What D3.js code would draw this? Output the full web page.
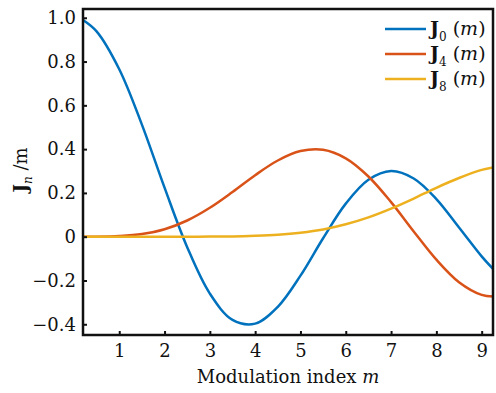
<!DOCTYPE html>
<html>
<head>
<meta charset="utf-8">
<script src="https://cdn.jsdelivr.net/npm/d3@7"></script>
<style>
  body { margin: 0; background: #fff; }
  text { font-family: "DejaVu Serif", serif; fill: #111; }
</style>
</head>
<body>
<script>
//Data
var mIndex = [0.2, 0.5, 1.0, 1.5, 2.0, 2.5, 3.0, 3.5, 4.0, 4.5, 5.0, 5.5, 6.0, 6.5, 7.0, 7.5, 8.0, 8.5, 9.0, 9.25];
var j0 = [0.990, 0.938, 0.765, 0.512, 0.224, -0.048, -0.260, -0.380, -0.397, -0.320, -0.178, -0.007, 0.151, 0.260, 0.300, 0.266, 0.172, 0.042, -0.090, -0.147];
var j4 = [0.000, 0.000, 0.003, 0.012, 0.034, 0.074, 0.132, 0.204, 0.281, 0.348, 0.391, 0.397, 0.358, 0.275, 0.158, 0.024, -0.105, -0.208, -0.266, -0.273];
var j8 = [0.000, 0.000, 0.000, 0.000, 0.000, 0.000, 0.0005, 0.0013, 0.0044, 0.0094, 0.0184, 0.033, 0.0565, 0.088, 0.128, 0.174, 0.2235, 0.268, 0.305, 0.316];
var xTicks = [1, 2, 3, 4, 5, 6, 7, 8, 9];
var yTicks = [-0.4, -0.2, 0, 0.2, 0.4, 0.6, 0.8, 1.0];
var seriesNames = ["0", "4", "8"];
var seriesColors = ["#0072BD", "#D95319", "#EDB120"];

//Define Margin
var W = 496, H = 393;
var margin = {left: 83, right: 3, top: 9, bottom: 58};

var svg = d3.select("body").append("svg")
    .attr("width", W)
    .attr("height", H);

var x = d3.scaleLinear().domain([0.2, 9.25]).range([margin.left, W - margin.right]);
var y = d3.scaleLinear().domain([-0.449, 1.04]).range([H - margin.bottom, margin.top]);

//Clip for curves
svg.append("clipPath").attr("id", "clip")
  .append("rect")
    .attr("x", margin.left).attr("y", margin.top)
    .attr("width", W - margin.left - margin.right)
    .attr("height", H - margin.top - margin.bottom);

var line = d3.line()
    .x(function(d) { return x(d[0]); })
    .y(function(d) { return y(d[1]); })
    .curve(d3.curveCatmullRom);

var series = [j0, j4, j8];
svg.append("g").attr("clip-path", "url(#clip)")
  .selectAll("path")
  .data(series)
  .enter().append("path")
    .attr("d", function(vals) { return line(mIndex.map(function(m, i) { return [m, vals[i]]; })); })
    .attr("fill", "none")
    .attr("stroke", function(d, i) { return seriesColors[i]; })
    .attr("stroke-width", 2.5);

//Axes (ticks pointing inward)
var xAxis = svg.append("g")
    .attr("transform", "translate(0," + (H - margin.bottom) + ")")
    .call(d3.axisBottom(x).tickValues(xTicks).tickSizeInner(-4).tickSizeOuter(0).tickPadding(9));
var yAxis = svg.append("g")
    .attr("transform", "translate(" + margin.left + ",0)")
    .call(d3.axisLeft(y).tickValues(yTicks).tickSizeInner(-4).tickSizeOuter(0).tickPadding(7)
      .tickFormat(function(d) { return d === 0 ? "0" : (d < 0 ? "\u2212" + Math.abs(d).toFixed(1) : d.toFixed(1)); }));

[xAxis, yAxis].forEach(function(a) {
  a.select(".domain").remove();
  a.selectAll(".tick line").attr("stroke", "#111").attr("stroke-width", 2);
  a.selectAll(".tick text").style("font-size", "18px").attr("fill", "#111");
});

//Box
svg.append("rect")
    .attr("x", margin.left).attr("y", margin.top)
    .attr("width", W - margin.left - margin.right)
    .attr("height", H - margin.top - margin.bottom)
    .attr("fill", "none")
    .attr("stroke", "#111")
    .attr("stroke-width", 2.5);

//Axis labels
var xl = svg.append("text")
    .attr("x", (margin.left + W - margin.right) / 2)
    .attr("y", 383)
    .attr("text-anchor", "middle")
    .style("font-size", "18px");
xl.append("tspan").text("Modulation index ");
xl.append("tspan").style("font-style", "italic").text("m");

var yl = svg.append("text")
    .attr("transform", "translate(27,170) rotate(-90)")
    .attr("text-anchor", "middle")
    .style("font-size", "18px");
yl.append("tspan").style("font-weight", "bold").text("J");
yl.append("tspan").attr("dy", 5).style("font-size", "12px").style("font-style", "italic").text("n");
yl.append("tspan").attr("dy", -5).text(" /m");

//Legend
var legend = svg.append("g").selectAll("g")
    .data(seriesNames)
    .enter().append("g")
    .attr("transform", function(d, i) { return "translate(385," + (29 + i * 25) + ")"; });
legend.append("line")
    .attr("x1", 0).attr("x2", 41)
    .attr("stroke", function(d, i) { return seriesColors[i]; })
    .attr("stroke-width", 2.5);
var lt = legend.append("text")
    .attr("x", 45).attr("y", 6)
    .style("font-size", "19px");
lt.append("tspan").style("font-weight", "bold").text("J");
lt.append("tspan").attr("dy", 6).style("font-size", "12px").text(function(d) { return d; });
lt.append("tspan").attr("dy", -6).text(" (");
lt.append("tspan").style("font-style", "italic").text("m");
lt.append("tspan").text(")");
</script>
</body>
</html>
